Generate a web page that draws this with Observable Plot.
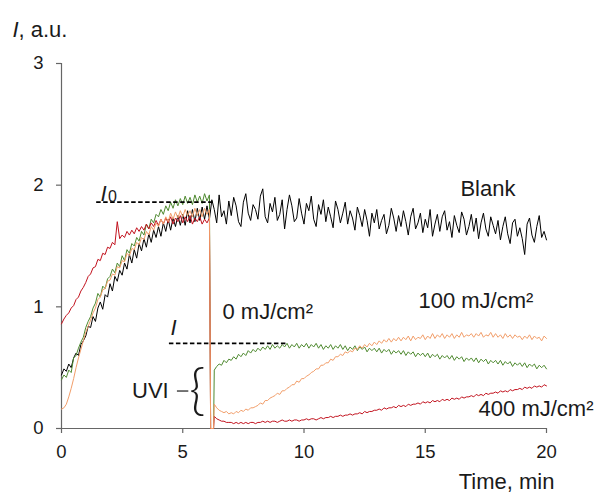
<!DOCTYPE html>
<html>
<head>
<meta charset="utf-8">
<script src="https://cdn.jsdelivr.net/npm/d3@7"></script>
<script src="https://cdn.jsdelivr.net/npm/@observablehq/plot@0.6"></script>
<style>
  html, body { margin: 0; padding: 0; background: #fff; }
  #chart { width: 598px; height: 492px; }
</style>
</head>
<body>
<div id="chart"></div>
<script>
// ---- axes / ticks ----
const xTicks = [0, 5, 10, 15, 20];
const yTicks = [0, 1, 2, 3];
const xDomain = [0, 20];
const yDomain = [0, 3];

// ---- sampling (min) ----
const step = 0.1;
const blankStart = 0;
const preStart = 0;
const postStart = 6.3;
const dropTimes = [6.15, 6.27];
const dropValues = [0.0, 0.0];

// ---- Blank (no UV), t = 0 … 20 ----
const blank = [
  0.44, 0.49, 0.47, 0.53, 0.50, 0.58, 0.62, 0.60, 0.69, 0.72,
  0.76, 0.84, 0.83, 0.92, 0.88, 0.99, 1.04, 0.98, 1.10, 1.08,
  1.19, 1.13, 1.25, 1.21, 1.30, 1.26, 1.36, 1.31, 1.43, 1.36,
  1.47, 1.40, 1.52, 1.46, 1.56, 1.49, 1.60, 1.53, 1.63, 1.57,
  1.66, 1.58, 1.69, 1.62, 1.72, 1.63, 1.73, 1.66, 1.75, 1.67,
  1.76, 1.67, 1.79, 1.69, 1.80, 1.70, 1.81, 1.71, 1.82, 1.72,
  1.83, 1.72, 1.88, 1.80, 1.69, 1.92, 1.74, 1.79, 1.68, 1.87,
  1.75, 1.90, 1.83, 1.70, 1.66, 1.86, 1.93, 1.77, 1.71, 1.84,
  1.80, 1.72, 1.91, 1.97, 1.74, 1.69, 1.85, 1.78, 1.90, 1.71,
  1.76, 1.88, 1.64, 1.80, 1.92, 1.83, 1.70, 1.73, 1.89, 1.77,
  1.68, 1.85, 1.79, 1.91, 1.72, 1.66, 1.84, 1.76, 1.88, 1.70,
  1.82, 1.74, 1.65, 1.87, 1.80, 1.69, 1.77, 1.86, 1.68, 1.79,
  1.73, 1.63, 1.82, 1.75, 1.66, 1.80, 1.71, 1.58, 1.77, 1.69,
  1.80, 1.64, 1.71, 1.76, 1.60, 1.67, 1.81, 1.73, 1.62, 1.75,
  1.66, 1.79, 1.70, 1.59, 1.74, 1.81, 1.64, 1.69, 1.77, 1.61,
  1.72, 1.65, 1.80, 1.58, 1.68, 1.76, 1.62, 1.74, 1.79, 1.63,
  1.70, 1.57, 1.75, 1.67, 1.61, 1.78, 1.72, 1.59, 1.66, 1.76,
  1.62, 1.73, 1.56, 1.69, 1.77, 1.64, 1.58, 1.74, 1.67, 1.60,
  1.71, 1.55, 1.66, 1.74, 1.60, 1.52, 1.69, 1.72, 1.58, 1.65,
  1.56, 1.43, 1.68, 1.73, 1.59, 1.53, 1.66, 1.75, 1.57, 1.62,
  1.55
];

// ---- 0 mJ/cm2 (green) ----
const green0Pre = [
  0.40, 0.44, 0.42, 0.48, 0.46, 0.58, 0.60, 0.66, 0.71, 0.75,
  0.83, 0.88, 0.92, 0.99, 1.03, 1.11, 1.08, 1.17, 1.15, 1.23,
  1.25, 1.31, 1.28, 1.36, 1.33, 1.42, 1.38, 1.47, 1.44, 1.52,
  1.50, 1.57, 1.54, 1.62, 1.59, 1.68, 1.64, 1.72, 1.69, 1.76,
  1.74, 1.80, 1.76, 1.83, 1.79, 1.86, 1.81, 1.88, 1.83, 1.89,
  1.84, 1.91, 1.85, 1.90, 1.84, 1.92, 1.86, 1.91, 1.85, 1.93,
  1.87, 1.92
];
const green0Post = [
  0.48, 0.51, 0.53, 0.52, 0.56, 0.54, 0.57,
  0.56, 0.59, 0.57, 0.61, 0.59, 0.62, 0.60, 0.64, 0.62, 0.65,
  0.63, 0.66, 0.64, 0.67, 0.65, 0.68, 0.65, 0.69, 0.66, 0.68,
  0.66, 0.69, 0.67, 0.70, 0.66, 0.69, 0.67, 0.70, 0.66, 0.69,
  0.67, 0.70, 0.66, 0.69, 0.67, 0.70, 0.66, 0.69, 0.65, 0.68,
  0.66, 0.69, 0.65, 0.68, 0.66, 0.69, 0.65, 0.68, 0.64, 0.67,
  0.65, 0.68, 0.64, 0.67, 0.65, 0.67, 0.63, 0.66, 0.64, 0.66,
  0.63, 0.66, 0.62, 0.65, 0.63, 0.65, 0.61, 0.64, 0.62, 0.64,
  0.61, 0.64, 0.60, 0.63, 0.61, 0.63, 0.59, 0.62, 0.60, 0.62,
  0.59, 0.62, 0.58, 0.61, 0.59, 0.61, 0.57, 0.60, 0.58, 0.60,
  0.57, 0.60, 0.56, 0.59, 0.57, 0.59, 0.55, 0.58, 0.56, 0.58,
  0.55, 0.58, 0.54, 0.57, 0.55, 0.57, 0.53, 0.56, 0.54, 0.56,
  0.53, 0.56, 0.52, 0.55, 0.53, 0.55, 0.51, 0.54, 0.52, 0.54,
  0.51, 0.54, 0.50, 0.53, 0.51, 0.53, 0.49, 0.52, 0.50, 0.52,
  0.49
];

// ---- 100 mJ/cm2 (orange) ----
const orange100Pre = [
  0.16, 0.17, 0.20, 0.26, 0.33, 0.41, 0.50, 0.58, 0.65, 0.72,
  0.79, 0.84, 0.89, 0.95, 0.99, 1.06, 1.08, 1.14, 1.15, 1.21,
  1.22, 1.27, 1.26, 1.33, 1.32, 1.38, 1.37, 1.44, 1.42, 1.48,
  1.47, 1.53, 1.51, 1.57, 1.55, 1.62, 1.59, 1.66, 1.63, 1.69,
  1.66, 1.72, 1.68, 1.74, 1.70, 1.77, 1.72, 1.78, 1.73, 1.79,
  1.74, 1.80, 1.75, 1.79, 1.74, 1.81, 1.75, 1.80, 1.74, 1.81,
  1.76, 1.80
];
const orange100Post = [
  0.20, 0.17, 0.15, 0.14, 0.13, 0.14, 0.12,
  0.13, 0.12, 0.14, 0.13, 0.15, 0.14, 0.16, 0.15, 0.17, 0.17,
  0.18, 0.19, 0.21, 0.20, 0.23, 0.23, 0.25, 0.26, 0.27, 0.29,
  0.28, 0.31, 0.31, 0.33, 0.34, 0.36, 0.36, 0.39, 0.38, 0.41,
  0.41, 0.43, 0.44, 0.46, 0.47, 0.49, 0.49, 0.52, 0.52, 0.54,
  0.54, 0.57, 0.56, 0.59, 0.59, 0.61, 0.60, 0.63, 0.62, 0.64,
  0.63, 0.66, 0.65, 0.68, 0.66, 0.69, 0.67, 0.70, 0.68, 0.71,
  0.69, 0.72, 0.70, 0.73, 0.71, 0.74, 0.71, 0.74, 0.72, 0.75,
  0.72, 0.75, 0.73, 0.76, 0.72, 0.76, 0.73, 0.75, 0.74, 0.77,
  0.73, 0.76, 0.74, 0.78, 0.74, 0.77, 0.75, 0.78, 0.74, 0.77,
  0.75, 0.78, 0.74, 0.77, 0.75, 0.79, 0.75, 0.77, 0.76, 0.78,
  0.75, 0.78, 0.76, 0.79, 0.75, 0.77, 0.76, 0.79, 0.75, 0.78,
  0.75, 0.77, 0.74, 0.78, 0.75, 0.77, 0.74, 0.77, 0.75, 0.76,
  0.73, 0.76, 0.74, 0.77, 0.73, 0.76, 0.74, 0.75, 0.72, 0.76,
  0.74
];

// ---- 400 mJ/cm2 (red) ----
const red400Pre = [
  0.86, 0.90, 0.93, 0.95, 0.99, 1.01, 1.06, 1.08, 1.13, 1.16,
  1.20, 1.25, 1.27, 1.32, 1.33, 1.39, 1.38, 1.44, 1.43, 1.49,
  1.48, 1.53, 1.51, 1.70, 1.56, 1.59, 1.57, 1.62, 1.59, 1.63,
  1.60, 1.65, 1.62, 1.66, 1.63, 1.68, 1.64, 1.69, 1.66, 1.71,
  1.67, 1.72, 1.68, 1.73, 1.69, 1.74, 1.68, 1.73, 1.70, 1.75,
  1.69, 1.74, 1.70, 1.75, 1.68, 1.73, 1.70, 1.74, 1.68, 1.72,
  1.69, 1.73
];
const red400Post = [
  0.10, 0.08, 0.07, 0.06, 0.06, 0.05, 0.05,
  0.05, 0.04, 0.05, 0.04, 0.05, 0.04, 0.05, 0.04, 0.05, 0.05,
  0.04, 0.05, 0.05, 0.06, 0.05, 0.06, 0.05, 0.06, 0.06, 0.05,
  0.06, 0.07, 0.06, 0.06, 0.07, 0.06, 0.07, 0.07, 0.06, 0.07,
  0.07, 0.08, 0.07, 0.08, 0.08, 0.07, 0.08, 0.09, 0.08, 0.09,
  0.09, 0.10, 0.09, 0.10, 0.10, 0.11, 0.10, 0.11, 0.11, 0.12,
  0.11, 0.12, 0.12, 0.13, 0.12, 0.14, 0.13, 0.14, 0.14, 0.15,
  0.15, 0.16, 0.15, 0.17, 0.16, 0.17, 0.17, 0.18, 0.17, 0.19,
  0.18, 0.19, 0.18, 0.20, 0.19, 0.20, 0.20, 0.21, 0.20, 0.22,
  0.21, 0.22, 0.21, 0.23, 0.22, 0.23, 0.22, 0.24, 0.23, 0.24,
  0.23, 0.25, 0.24, 0.25, 0.24, 0.26, 0.25, 0.26, 0.26, 0.27,
  0.26, 0.28, 0.27, 0.28, 0.27, 0.29, 0.28, 0.29, 0.29, 0.30,
  0.29, 0.31, 0.30, 0.31, 0.30, 0.32, 0.31, 0.32, 0.32, 0.33,
  0.32, 0.34, 0.33, 0.34, 0.33, 0.35, 0.34, 0.35, 0.34, 0.36,
  0.35
];

// ---- annotation values ----
const i0Level = 1.86, i0From = 1.45, i0To = 6.35;
const iLevel = 0.70, iFrom = 4.45, iTo = 9.35;
const uviLevel = 0.308;

// ---- build tables ----
function sampled(values, start) {
  return values.map((v, i) => ({t: +(start + i * step).toFixed(3), v}));
}
function uvSeries(pre, post) {
  return [
    ...sampled(pre, preStart),
    ...dropTimes.map((t, i) => ({t, v: dropValues[i]})),
    ...sampled(post, postStart)
  ];
}
const blankRows = sampled(blank, blankStart);
const greenRows = uvSeries(green0Pre, green0Post);
const orangeRows = uvSeries(orange100Pre, orange100Post);
const redRows = uvSeries(red400Pre, red400Post);

const FONT = "'Liberation Sans', Arial, Helvetica, sans-serif";
const AXIS = "#666";
const TEXT = "#1a1a1a";
const LBL = 22;

const chart = Plot.plot({
  width: 598,
  height: 492,
  marginLeft: 61,
  marginRight: 52,
  marginTop: 63,
  marginBottom: 64,
  x: {domain: xDomain},
  y: {domain: yDomain},
  style: {fontFamily: FONT, background: "#fff", overflow: "visible"},
  marks: [
    // axis lines
    Plot.ruleX([0], {stroke: AXIS, strokeWidth: 1.2}),
    Plot.ruleY([0], {stroke: AXIS, strokeWidth: 1.2}),
    // tick marks
    Plot.axisX({ticks: xTicks, tickSize: 5, tickFormat: () => "", label: null, color: AXIS, strokeWidth: 1.2}),
    Plot.axisY({ticks: yTicks, tickSize: 5, tickFormat: () => "", label: null, color: AXIS, strokeWidth: 1.2}),
    // tick labels
    Plot.axisX({ticks: xTicks, tickSize: 0, tickPadding: 16, tickFormat: "d", label: null, color: TEXT, fontSize: 18.5}),
    Plot.axisY({ticks: yTicks, tickSize: 0, tickPadding: 18, tickFormat: "d", label: null, color: TEXT, fontSize: 18.5}),

    // data lines
    Plot.line(blankRows, {x: "t", y: "v", stroke: "#000", strokeWidth: 1}),
    Plot.line(greenRows, {x: "t", y: "v", stroke: "#4f8a30", strokeWidth: 1}),
    Plot.line(redRows, {x: "t", y: "v", stroke: "#c2121e", strokeWidth: 1}),
    Plot.line(orangeRows, {x: "t", y: "v", stroke: "#f29e6a", strokeWidth: 1}),

    // dashed reference levels
    Plot.ruleY([i0Level], {x1: i0From, x2: i0To, stroke: "#000", strokeWidth: 1.7, strokeDasharray: "4.5,2.5"}),
    Plot.ruleY([iLevel], {x1: iFrom, x2: iTo, stroke: "#000", strokeWidth: 1.7, strokeDasharray: "4.5,2.5"}),

    // I0 and I labels
    Plot.text(["I"], {x: 1.61, y: 1.93, textAnchor: "start", fontStyle: "italic", fontSize: LBL, fill: TEXT}),
    Plot.text(["0"], {x: 1.92, y: 1.90, textAnchor: "start", fontSize: 16, fill: TEXT}),
    Plot.text(["I"], {x: 4.49, y: 0.826, textAnchor: "start", fontStyle: "italic", fontSize: LBL, fill: TEXT}),

    // series labels
    Plot.text(["Blank"], {x: 16.45, y: 1.97, textAnchor: "start", fontSize: LBL, fill: TEXT}),
    Plot.text(["0 mJ/cm²"], {x: 6.64, y: 0.957, textAnchor: "start", fontSize: LBL, fill: TEXT}),
    Plot.text(["100 mJ/cm²"], {x: 14.72, y: 1.05, textAnchor: "start", fontSize: LBL, fill: TEXT}),
    Plot.text(["400 mJ/cm²"], {x: 17.2, y: 0.164, textAnchor: "start", fontSize: LBL, fill: TEXT}),

    // UVI bracket
    Plot.text(["UVI"], {x: 4.42, y: uviLevel, textAnchor: "end", fontSize: LBL, fill: TEXT}),
    Plot.ruleY([uviLevel], {x1: 4.78, x2: 5.25, stroke: TEXT, strokeWidth: 1.2}),
    Plot.text(["{"], {x: 5.6, y: uviLevel, textAnchor: "middle", fontFamily: "Lato, 'DejaVu Sans', sans-serif", fontWeight: 300, fontSize: 56, fill: TEXT}),

    // axis titles
    Plot.text(["I"], {frameAnchor: "top-left", dx: -49, dy: -42, textAnchor: "start", fontStyle: "italic", fontSize: LBL, fill: TEXT}),
    Plot.text([", a.u."], {frameAnchor: "top-left", dx: -43, dy: -42, textAnchor: "start", fontSize: LBL, fill: TEXT}),
    Plot.text(["Time, min"], {frameAnchor: "bottom-right", dx: -40, dy: 60, textAnchor: "middle", fontSize: LBL, fill: TEXT})
  ]
});
document.getElementById("chart").appendChild(chart);
</script>
</body>
</html>
